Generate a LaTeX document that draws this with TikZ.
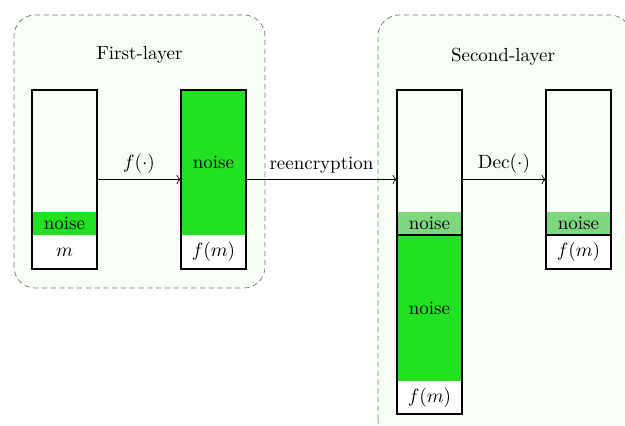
\documentclass[tikz,border=0pt]{standalone}
\usepackage{amsmath,amssymb}
\usepackage{tikz}
\usetikzlibrary{arrows.meta}
\usetikzlibrary{positioning,fit}
\definecolor{noisedark}{RGB}{34,224,34}
\definecolor{noiselight}{RGB}{126,214,126}
\definecolor{layerbg}{RGB}{248,254,247}
\definecolor{dashgray}{RGB}{120,120,120}
\tikzset{
  layer/.style={draw=dashgray, dash pattern=on 3pt off 2pt, fill=layerbg, rounded corners=12pt},
  cell/.style={minimum width=1.3cm, inner sep=0pt, outer sep=0pt},
  outline/.style={draw, thick, inner sep=0pt, outer sep=0pt},
}

\begin{document}
\begin{tikzpicture}[every node/.style={font=\fontsize{10.8}{13}\selectfont}]
\useasboundingbox (0,0) rectangle (12.5,8.52);
% layers
\draw[layer] (0.28,2.76) rectangle (5.30,8.22);
\draw[layer] (7.56,-0.30) rectangle (12.62,8.22);
\node (title1) at (2.79,7.42) {First-layer};
\node (title2) at (10.06,7.38) {Second-layer};
% block 1 : m
\node[cell, minimum height=2.44cm, anchor=north] (b1top) at (1.29,6.72) {};
\node[cell, fill=noisedark, minimum height=0.46cm, below=0pt of b1top] (b1noise) {noise};
\node[cell, fill=white, minimum height=0.68cm, below=0pt of b1noise] (b1m) {$m$};
\node[outline, fit=(b1top)(b1m)] (blk1) {};
% block 2 : f(m)
\node[cell, fill=noisedark, minimum height=2.9cm, anchor=north] (b2noise) at (4.27,6.72) {noise};
\node[cell, fill=white, minimum height=0.68cm, below=0pt of b2noise] (b2fm) {$f(m)$};
\node[outline, fit=(b2noise)(b2fm)] (blk2) {};
% block 3 : reencrypted
\node[cell, minimum height=2.44cm, anchor=north] (b3top) at (8.59,6.72) {};
\node[cell, fill=noiselight, minimum height=0.46cm, below=0pt of b3top] (b3noise) {noise};
\node[cell, fill=noisedark, minimum height=2.92cm, below=0pt of b3noise] (b3big) {noise};
\node[cell, fill=white, minimum height=0.66cm, below=0pt of b3big] (b3fm) {$f(m)$};
\node[outline, fit=(b3top)(b3noise)] (blk3) {};
\node[outline, fit=(b3big)(b3fm)] (blk3low) {};
% block 4 : decrypted
\node[cell, minimum height=2.44cm, anchor=north] (b4top) at (11.57,6.72) {};
\node[cell, fill=noiselight, minimum height=0.46cm, below=0pt of b4top] (b4noise) {noise};
\node[cell, fill=white, minimum height=0.68cm, below=0pt of b4noise] (b4fm) {$f(m)$};
\node[outline, fit=(b4top)(b4noise)] (blk4) {};
\node[outline, fit=(b4fm)] (blk4low) {};
% arrows
\draw[->] (blk1) -- (blk2) node[midway, above] {$f(\cdot)$};
\draw[->] (blk2) -- (blk2.east -| blk3.west) node[midway, above] {reencryption};
\draw[->] (blk2.east -| blk3.east) -- (blk2.east -| blk4.west) node[midway, above] {$\mathrm{Dec}(\cdot)$};
\end{tikzpicture}
\end{document}
